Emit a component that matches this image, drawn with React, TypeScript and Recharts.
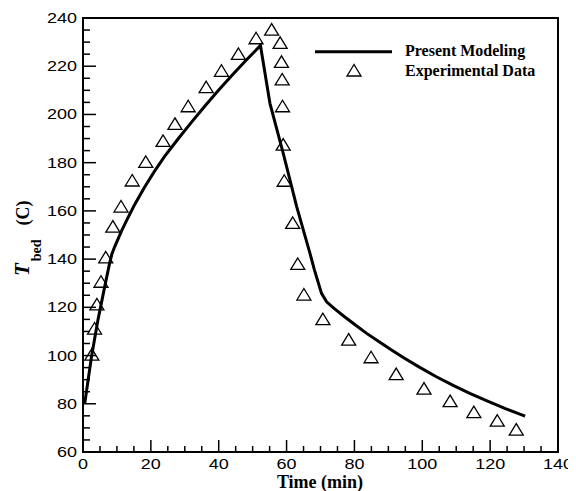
import React from 'react';
import { ComposedChart, Line, Scatter, XAxis, YAxis, ReferenceArea, Customized } from 'recharts';

// model curve (Present Modeling)
const modelTime = [0.5, 2.5, 4.4, 6.4, 7.8, 8.5, 9.3, 11.3, 12.9, 15, 18, 21, 24, 28, 32, 36, 40, 44, 48, 52.3, 55.1, 59, 63, 66.9, 68.2, 70.3, 71.8, 74, 76.7, 80, 83.6, 87.5, 91.5, 95, 99, 104, 109.1, 114, 118.9, 124.5, 130.3];
const modelTemp = [80, 99.5, 114.7, 128.6, 138, 142, 145, 151.5, 156.2, 162, 169.5, 176.3, 182.5, 189.8, 196.8, 203.6, 210.1, 216.4, 222.4, 228.6, 204.6, 184, 161.7, 142.4, 135.5, 125.8, 122.3, 119.6, 116.5, 113, 109.2, 105.5, 101.8, 98.7, 95.3, 91.3, 87.6, 84.3, 81.3, 78, 74.9];

// measured points (Experimental Data)
const expTime = [2.6, 3.4, 4.1, 5.3, 6.7, 8.8, 11.2, 14.5, 18.5, 23.6, 27.1, 31, 36.3, 40.8, 45.8, 51, 55.6, 58.1, 58.5, 58.7, 58.8, 59, 59.3, 61.8, 63.3, 65.1, 70.7, 78.3, 84.9, 92.3, 100.5, 108.2, 115.2, 122.1, 127.7];
const expTemp = [100.2, 111, 121, 130.4, 140.5, 153.3, 161.6, 172.4, 180.1, 188.8, 195.9, 203.2, 211.1, 217.9, 224.9, 231.4, 235, 229.5, 221.6, 214.3, 203.2, 187.3, 172.3, 154.8, 137.8, 125.1, 114.9, 106.4, 99.1, 92.1, 86.1, 80.9, 76.3, 72.8, 69.1];

const xTicks = [0, 5, 10, 15, 20, 25, 30, 35, 40, 45, 50, 55, 60, 65, 70, 75, 80, 85, 90, 95, 100, 105, 110, 115, 120, 125, 130, 135, 140];
const yTicks = [60, 65, 70, 75, 80, 85, 90, 95, 100, 105, 110, 115, 120, 125, 130, 135, 140, 145, 150, 155, 160, 165, 170, 175, 180, 185, 190, 195, 200, 205, 210, 215, 220, 225, 230, 235, 240];

const modelData = modelTime.map((x, i) => ({ x, y: modelTemp[i] }));
const expData = expTime.map((x, i) => ({ x, y: expTemp[i] }));

const sans = 'Liberation Sans, Arial, sans-serif';
const serif = 'Liberation Serif, Times New Roman, serif';

const XTick = (props: any) => {
  const { x, y, payload } = props;
  const major = payload.value % 20 === 0;
  const s = String(payload.value);
  return (
    <g>
      <line x1={x} x2={x} y1={y} y2={y - (major ? 12 : 6)} stroke="#000" strokeWidth={1.5} />
      {major && (
        <text x={x} y={y + 17} textAnchor="middle" fontFamily={sans} fontSize={14} fill="#000"
          textLength={s.length * 10} lengthAdjust="spacingAndGlyphs">{s}</text>
      )}
    </g>
  );
};

const YTick = (props: any) => {
  const { x, y, payload } = props;
  const major = payload.value % 20 === 0;
  const s = String(payload.value);
  return (
    <g>
      <line x1={x} x2={x + (major ? 13 : 7)} y1={y} y2={y} stroke="#000" strokeWidth={1.5} />
      {major && (
        <text x={x - 6} y={y + 5} textAnchor="end" fontFamily={sans} fontSize={14} fill="#000"
          textLength={s.length * 10} lengthAdjust="spacingAndGlyphs">{s}</text>
      )}
    </g>
  );
};

const Triangle = (props: any) => {
  const { cx, cy } = props;
  if (cx == null || cy == null) return null;
  return <polygon points={`${cx},${cy - 6.5} ${cx - 7},${cy + 5} ${cx + 7},${cy + 5}`} fill="none" stroke="#000" strokeWidth={1.3} />;
};

const XTitle = () => (
  <text x={312} y={480} textAnchor="middle" fontFamily={serif} fontWeight="bold" fontSize={18} fill="#000">
    Time (min)
  </text>
);

const YTitle = () => (
  <text transform="translate(21,268) rotate(-90)" fontFamily={serif} fontWeight="bold" fill="#000">
    <tspan fontStyle="italic" fontSize={21}>T</tspan>
    <tspan fontSize={14} dx={2} dy={12}>bed</tspan>
    <tspan fontSize={18} dx={14} dy={-12}>(C)</tspan>
  </text>
);

const LegendBox = () => (
  <g fontFamily={serif} fontWeight="bold" fontSize={16} fill="#000">
    <line x1={307} x2={384} y1={43.7} y2={43.7} stroke="#000" strokeWidth={3} />
    <polygon points="346,56.5 339,68 353,68" fill="none" stroke="#000" strokeWidth={1.3} />
    <text x={397} y={48}>Present Modeling</text>
    <text x={397} y={68}>Experimental Data</text>
  </g>
);

export default function App() {
  return (
    <ComposedChart width={568} height={483} margin={{ top: 10, right: 18, bottom: 0, left: 0 }}>
      <XAxis type="number" dataKey="x" domain={[0, 140]} ticks={xTicks} interval={0} allowDataOverflow
        height={39} tickSize={0} tickMargin={0} tickLine={false} tick={<XTick />}
        axisLine={{ stroke: '#000', strokeWidth: 2 }} label={<XTitle />} />
      <YAxis type="number" dataKey="y" domain={[60, 240]} ticks={yTicks} interval={0} allowDataOverflow
        width={75} tickSize={0} tickMargin={0} tickLine={false} tick={<YTick />}
        axisLine={{ stroke: '#000', strokeWidth: 2 }} label={<YTitle />} />
      <ReferenceArea x1={0} x2={140} y1={60} y2={240} fill="none" fillOpacity={0} stroke="#000" strokeWidth={2} />
      <Line data={modelData} dataKey="y" type="linear" stroke="#000" strokeWidth={3} dot={false}
        isAnimationActive={false} name="Present Modeling" />
      <Scatter data={expData} dataKey="y" shape={<Triangle />} isAnimationActive={false} name="Experimental Data" />
      <Customized component={<LegendBox />} />
    </ComposedChart>
  );
}
